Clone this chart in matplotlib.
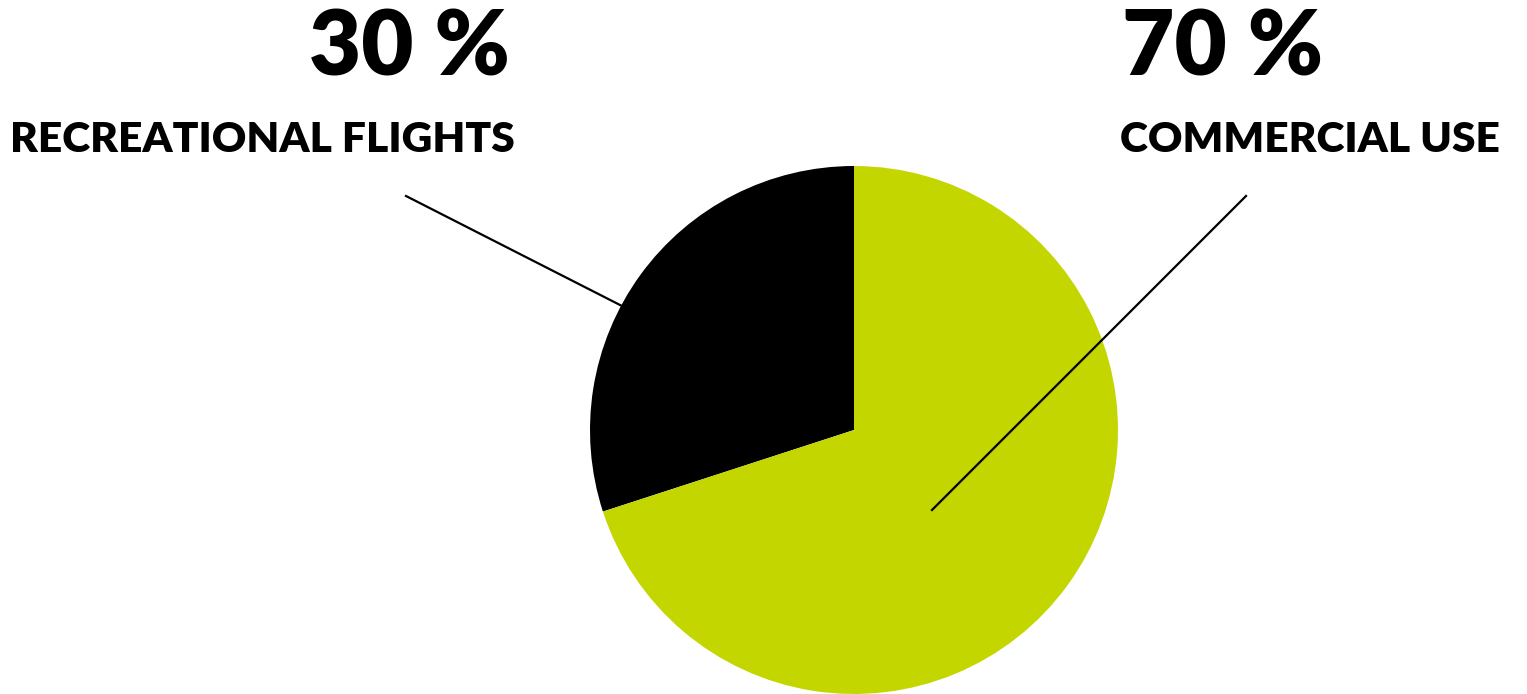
import matplotlib.pyplot as plt

labels = ["RECREATIONAL FLIGHTS", "COMMERCIAL USE"]
values = [30, 70]
colors = ["#000000", "#c4d600"]

W, H = 1527, 694

fig = plt.figure(figsize=(W / 100, H / 100), dpi=100)
ax = fig.add_axes([0, 0, 1, 1])

# pie in pixel-like coords (y measured from bottom)
ax.pie(values, colors=colors, startangle=90, counterclock=True,
       center=(854, H - 430), radius=264, frame=True)
ax.set_xlim(0, W)
ax.set_ylim(0, H)
ax.set_aspect("auto")
ax.axis("off")

# leader lines
ax.plot([406, 622], [H - 196, H - 306], color="black", lw=1.6)
ax.plot([1246, 932], [H - 196, H - 510], color="black", lw=1.6)

font = "Lato"
ax.text(510, H - 75, f"{values[0]} %", ha="right", va="baseline",
        fontsize=65, fontweight="heavy", family=font)
ax.text(10, H - 152, labels[0], ha="left", va="baseline",
        fontsize=30.6, fontweight="heavy", family=font)
ax.text(1122, H - 75, f"{values[1]} %", ha="left", va="baseline",
        fontsize=65, fontweight="heavy", family=font)
ax.text(1120, H - 152, labels[1], ha="left", va="baseline",
        fontsize=30.6, fontweight="heavy", family=font)

fig.savefig("out.png", dpi=100)
